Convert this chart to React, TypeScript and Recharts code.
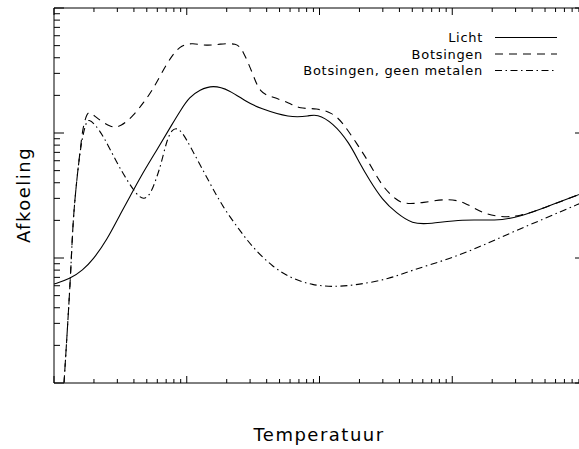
import React from 'react';
import { LineChart, Line, XAxis, YAxis } from 'recharts';

const lichtT = [10, 13.2, 16.5, 19.6, 25.0, 31.3, 37.3, 44.3, 59.5, 78.5, 90.2, 105, 125, 157, 210, 282, 354, 595, 841, 949, 1253, 1683, 2000, 2378, 2977, 3794, 5003, 6714, 11890, 21420, 31900, 50930, 88500, 100000];
const lichtC = [6.19, 6.79, 8.02, 9.64, 13.9, 22.1, 30.8, 43.7, 73.1, 120, 153, 194, 221, 242, 221, 177, 158, 132, 137, 142, 122, 83.2, 57.5, 42.1, 29.1, 22.9, 18.7, 18.7, 20.5, 19.8, 21.3, 25.6, 31.9, 33.7];

const botsT = [11.5, 11.9, 12.7, 13.4, 13.9, 14.9, 16.0, 16.5, 17.7, 18.7, 21.0, 26.8, 31.9, 40.0, 47.6, 55.5, 70.8, 88.6, 111, 141, 177, 238, 264, 313, 354, 443, 595, 708, 949, 1253, 1489, 1898, 2378, 2977, 3794, 4356, 5943, 9480, 12730, 16810, 22550, 31900, 50930, 88500, 100000];
const botsC = [0.575, 1.0, 3.02, 8.02, 20.1, 44.5, 83.2, 110, 145, 147, 132, 110, 112, 139, 177, 221, 363, 506, 525, 497, 515, 525, 461, 302, 209, 194, 174, 156, 158, 145, 122, 83.2, 57.5, 37.0, 29.1, 27.0, 27.5, 30.2, 27.5, 22.9, 21.3, 21.3, 25.6, 31.9, 33.7];

const geenT = [11.5, 11.9, 12.7, 13.4, 13.9, 14.9, 16.0, 17.4, 18.3, 20.3, 23.8, 29.8, 35.4, 42.1, 47.6, 53.6, 59.5, 63.8, 70.8, 77.2, 84.1, 91.7, 100, 113, 149, 187, 250, 313, 443, 627, 885, 1253, 1898, 3357, 5003, 9016, 15960, 28250, 50930, 88500, 100000];
const geenC = [0.575, 1.0, 3.02, 8.02, 20.1, 44.5, 83.2, 122, 129, 118, 92.9, 57.5, 42.1, 31.9, 29.1, 32.5, 44.5, 55.5, 87.9, 106, 110, 102, 87.9, 69.2, 39.8, 25.6, 16.7, 12.2, 8.47, 6.79, 6.08, 5.86, 6.08, 6.79, 8.02, 9.64, 12.2, 16.1, 20.9, 27.0, 28.1];

const xTicks = [10, 20, 30, 40, 50, 60, 70, 80, 90, 100, 200, 300, 400, 500, 600, 700, 800, 900, 1000, 2000, 3000, 4000, 5000, 6000, 7000, 8000, 9000, 10000, 20000, 30000, 40000, 50000, 60000, 70000, 80000, 90000, 100000];
const yTicks = [1, 2, 3, 4, 5, 6, 7, 8, 9, 10, 20, 30, 40, 50, 60, 70, 80, 90, 100, 200, 300, 400, 500, 600, 700, 800, 900, 1000];

const series = [
  { name: 'Licht', t: lichtT, c: lichtC, dash: undefined },
  { name: 'Botsingen', t: botsT, c: botsC, dash: '8 6' },
  { name: 'Botsingen, geen metalen', t: geenT, c: geenC, dash: '7 3.5 1.5 3.5' },
];

const W = 600;
const H = 449;
// axes are 1px thick, so the plot box ends up at 54..585 x 8..383
const M = { top: 7, right: 14, bottom: 65, left: 53 };
const TOP = 8;
const BOTTOM = 383;
const LEFT = 54;
const RIGHT = 585;
const FONT = '"DejaVu Sans", sans-serif';

const isMajor = (v: number) => Math.abs(Math.log10(v) - Math.round(Math.log10(v))) < 1e-6;

const BottomTick = (p: any) => {
  const len = isMajor(p.payload.value) ? 7 : 4;
  return <line x1={p.x} x2={p.x} y1={BOTTOM} y2={BOTTOM - len} stroke="#000" strokeWidth={1} />;
};
const TopTick = (p: any) => {
  const len = isMajor(p.payload.value) ? 7 : 4;
  return <line x1={p.x} x2={p.x} y1={TOP} y2={TOP + len} stroke="#000" strokeWidth={1} />;
};
const LeftTick = (p: any) => {
  const len = isMajor(p.payload.value) ? 10 : 6;
  return <line x1={LEFT} x2={LEFT + len} y1={p.y} y2={p.y} stroke="#000" strokeWidth={1} />;
};
const RightTick = (p: any) => {
  const len = isMajor(p.payload.value) ? 10 : 6;
  return <line x1={RIGHT} x2={RIGHT - len} y1={p.y} y2={p.y} stroke="#000" strokeWidth={1} />;
};

export default function App() {
  return (
    <div style={{ position: 'absolute', left: 0, top: 0, width: 579, height: 449, overflow: 'hidden', background: '#fff' }}>
      <LineChart width={W} height={H} margin={M}>
        <XAxis xAxisId="b" dataKey="t" type="number" scale="log" domain={[10, 100000]} allowDataOverflow
          ticks={xTicks} interval={0} tick={BottomTick} tickLine={false} height={1} axisLine={{ stroke: '#000' }} />
        <XAxis xAxisId="t" orientation="top" dataKey="t" type="number" scale="log" domain={[10, 100000]} allowDataOverflow
          ticks={xTicks} interval={0} tick={TopTick} tickLine={false} height={1} axisLine={{ stroke: '#000' }} />
        <YAxis yAxisId="l" type="number" scale="log" domain={[1, 1000]} allowDataOverflow
          ticks={yTicks} interval={0} tick={LeftTick} tickLine={false} width={1} axisLine={{ stroke: '#000' }} />
        <YAxis yAxisId="r" orientation="right" type="number" scale="log" domain={[1, 1000]} allowDataOverflow
          ticks={yTicks} interval={0} tick={RightTick} tickLine={false} width={1} axisLine={{ stroke: '#000' }} />
        {series.map((s) => (
          <Line key={s.name} xAxisId="b" yAxisId="l" name={s.name}
            data={s.t.map((t, i) => ({ t, c: s.c[i] }))} dataKey="c" type="basis"
            stroke="#000" strokeWidth={1.1} strokeDasharray={s.dash} dot={false}
            isAnimationActive={false} />
        ))}
      </LineChart>
      <svg width={579} height={449} style={{ position: 'absolute', left: 0, top: 0, pointerEvents: 'none' }}
        fontFamily={FONT}>
        {series.map((s, i) => (
          <g key={s.name}>
            <text x={483} y={42 + i * 16.5} textAnchor="end" fontSize={13} letterSpacing={0.7} fill="#000">{s.name}</text>
            <line x1={495} x2={557} y1={37.5 + i * 16.5} y2={37.5 + i * 16.5} stroke="#000" strokeWidth={1.1}
              strokeDasharray={s.dash} />
          </g>
        ))}
        <text x={319} y={441} textAnchor="middle" fontSize={18} letterSpacing={1.5} fill="#000">Temperatuur</text>
        <text transform="translate(30,195) rotate(-90)" textAnchor="middle" fontSize={18} letterSpacing={1.5} fill="#000">Afkoeling</text>
      </svg>
    </div>
  );
}
